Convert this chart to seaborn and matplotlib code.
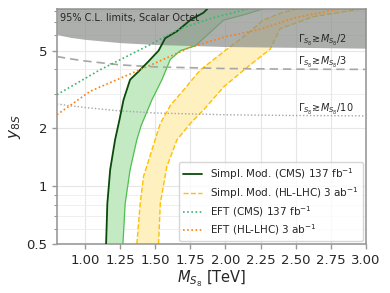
import numpy as np
import pandas as pd
import seaborn as sns
import matplotlib.pyplot as plt
from matplotlib.ticker import LogLocator, NullFormatter, FixedLocator, FixedFormatter

# Simpl. Mod. (CMS) 137 fb^-1 band: left (solid) and right edges
cms_left_x = [1.15, 1.159, 1.179, 1.214, 1.245, 1.274, 1.321, 1.381, 1.452, 1.524, 1.571, 1.655, 1.75, 1.843, 1.87]
cms_left_y = [0.5, 0.81, 1.21, 1.73, 2.19, 2.78, 3.54, 3.9, 4.4, 5.0, 5.8, 6.3, 7.2, 7.85, 8.2]
cms_right_x = [1.27, 1.286, 1.321, 1.369, 1.40, 1.476, 1.548, 1.607, 1.679, 1.786, 1.857, 1.988, 2.143, 2.26]
cms_right_y = [0.5, 0.81, 1.21, 1.73, 2.05, 2.78, 3.54, 4.5, 5.0, 5.3, 5.9, 7.2, 7.7, 8.2]

# Simpl. Mod. (HL-LHC) 3 ab^-1 band
hl_left_x = [1.369, 1.393, 1.417, 1.476, 1.536, 1.607, 1.702, 1.821, 1.95, 2.036, 2.155, 2.27, 2.39, 2.51]
hl_left_y = [0.5, 0.81, 1.12, 1.53, 2.1, 2.6, 3.13, 3.97, 4.7, 5.25, 6.1, 7.2, 7.8, 8.2]
hl_right_x = [1.524, 1.536, 1.583, 1.655, 1.75, 1.845, 1.988, 2.155, 2.32, 2.39, 2.63, 2.96]
hl_right_y = [0.5, 0.81, 1.26, 1.73, 2.1, 2.47, 3.25, 4.1, 5.1, 6.5, 7.5, 8.2]

# EFT limits
eft_cms_x = [0.8, 1.107, 1.464, 1.679, 1.914, 2.157]
eft_cms_y = [2.96, 3.98, 5.37, 6.5, 7.4, 8.2]
eft_hl_x = [0.8, 1.036, 1.464, 1.75, 2.0, 2.23, 2.5, 2.8]
eft_hl_y = [2.33, 3.08, 4.2, 5.2, 5.9, 6.4, 7.4, 8.2]

# width contours
width_x = [0.8, 0.9, 1.0, 1.25, 1.5, 2.0, 2.5, 3.0]
half_y = [6.05, 5.85, 5.72, 5.5, 5.38, 5.25, 5.2, 5.15]
third_y = [4.66, 4.53, 4.42, 4.22, 4.12, 4.04, 4.01, 4.0]
tenth_y = [2.65, 2.59, 2.54, 2.44, 2.38, 2.33, 2.31, 2.30]

xticks = [1.00, 1.25, 1.50, 1.75, 2.00, 2.25, 2.50, 2.75, 3.00]
yticks = [0.5, 1, 2, 5]
ytick_labels = ["0.5", "1", "2", "5"]

sns.set_style("whitegrid", {"axes.edgecolor": "0.6", "xtick.bottom": True, "ytick.left": True,
                            "grid.color": "0.92"})
plt.rcParams["font.family"] = ["DejaVu Sans"]

fig, ax = plt.subplots(figsize=(3.9, 2.93), dpi=100)
ax.set_yscale("log")

# bands
ax.fill(cms_left_x + cms_right_x[::-1], cms_left_y + cms_right_y[::-1],
        color="#c4eac4", lw=0, zorder=2)
ax.fill(hl_left_x + hl_right_x[::-1], hl_left_y + hl_right_y[::-1],
        color="#fff0c0", lw=0, zorder=2)

sns.lineplot(x=hl_left_x, y=hl_left_y, sort=False, estimator=None, ax=ax,
             color="#ffc000", ls="--", lw=1, zorder=2)
sns.lineplot(x=hl_right_x, y=hl_right_y, sort=False, estimator=None, ax=ax,
             color="#ffc000", ls="--", lw=1, zorder=2)
sns.lineplot(x=cms_right_x, y=cms_right_y, sort=False, estimator=None, ax=ax,
             color="#4cc04c", lw=0.9, zorder=2)

# broad-width region
ax.fill_between(width_x, half_y, 20, color="#8a8e8a", alpha=0.7, lw=0, zorder=3)

sns.lineplot(x=width_x, y=third_y, ax=ax, color="0.65", ls=(0, (5, 3)), lw=1.2, zorder=3)
sns.lineplot(x=width_x, y=tenth_y, ax=ax, color="0.65", ls=(0, (1, 1.5)), lw=1, zorder=3)

sns.lineplot(x=cms_left_x, y=cms_left_y, sort=False, estimator=None, ax=ax,
             color="#0b4a0b", lw=1.3, zorder=4)
sns.lineplot(x=eft_cms_x, y=eft_cms_y, sort=False, estimator=None, ax=ax,
             color="#3cb371", ls=(0, (1, 1.5)), lw=1.2, zorder=4)
sns.lineplot(x=eft_hl_x, y=eft_hl_y, sort=False, estimator=None, ax=ax,
             color="#ff7f0e", ls=(0, (1, 1.5)), lw=1.2, zorder=4)

# legend proxies
h1, = ax.plot([], [], color="#0b4a0b", lw=1.3)
h2, = ax.plot([], [], color="#ffc000", ls="--", lw=1)
h3, = ax.plot([], [], color="#3cb371", ls=(0, (1, 1.5)), lw=1.2)
h4, = ax.plot([], [], color="#ff7f0e", ls=(0, (1, 1.5)), lw=1.2)
leg = ax.legend([h1, h2, h3, h4],
                ["Simpl. Mod. (CMS) 137 fb$^{-1}$", "Simpl. Mod. (HL-LHC) 3 ab$^{-1}$",
                 "EFT (CMS) 137 fb$^{-1}$", "EFT (HL-LHC) 3 ab$^{-1}$"],
                loc="lower right", fontsize=7.5, frameon=True, handlelength=1.8,
                borderaxespad=0.3, labelspacing=0.3)
leg.set_zorder(6)

ax.text(0.01, 0.985, "95% C.L. limits, Scalar Octet", transform=ax.transAxes,
        fontsize=7, va="top", ha="left", zorder=5)
ax.text(2.52, 5.45, r"$\Gamma_{S_8}\!\gtrsim\!M_{S_8}/2$", fontsize=7, zorder=5)
ax.text(2.52, 4.2, r"$\Gamma_{S_8}\!\gtrsim\!M_{S_8}/3$", fontsize=7, zorder=5)
ax.text(2.52, 2.4, r"$\Gamma_{S_8}\!\gtrsim\!M_{S_8}/10$", fontsize=7, zorder=5)

ax.set_xlim(0.8, 3.0)
ax.set_ylim(0.5, 8.2)
ax.xaxis.set_major_locator(FixedLocator(xticks))
ax.yaxis.set_major_locator(FixedLocator(yticks))
ax.yaxis.set_major_formatter(FixedFormatter(ytick_labels))
ax.yaxis.set_minor_locator(LogLocator(subs=np.arange(2, 10)))
ax.yaxis.set_minor_formatter(NullFormatter())
ax.tick_params(axis="both", labelsize=9.5, color="0.6", length=3.5, width=1)
ax.tick_params(axis="y", which="minor", length=2, color="0.6", width=0.8)
ax.grid(True, which="major", color="0.9", lw=0.8)
ax.grid(True, which="minor", axis="y", color="0.93", lw=0.6)
for s in ax.spines.values():
    s.set_linewidth(1.2)

ax.set_xlabel(r"$M_{S_8}$ [TeV]", fontsize=10.5, labelpad=1)
ax.set_ylabel(r"$y_{8S}$", fontsize=11, labelpad=2)

fig.subplots_adjust(left=0.146, right=0.938, top=0.969, bottom=0.167)
fig.savefig("out.png", dpi=100)
